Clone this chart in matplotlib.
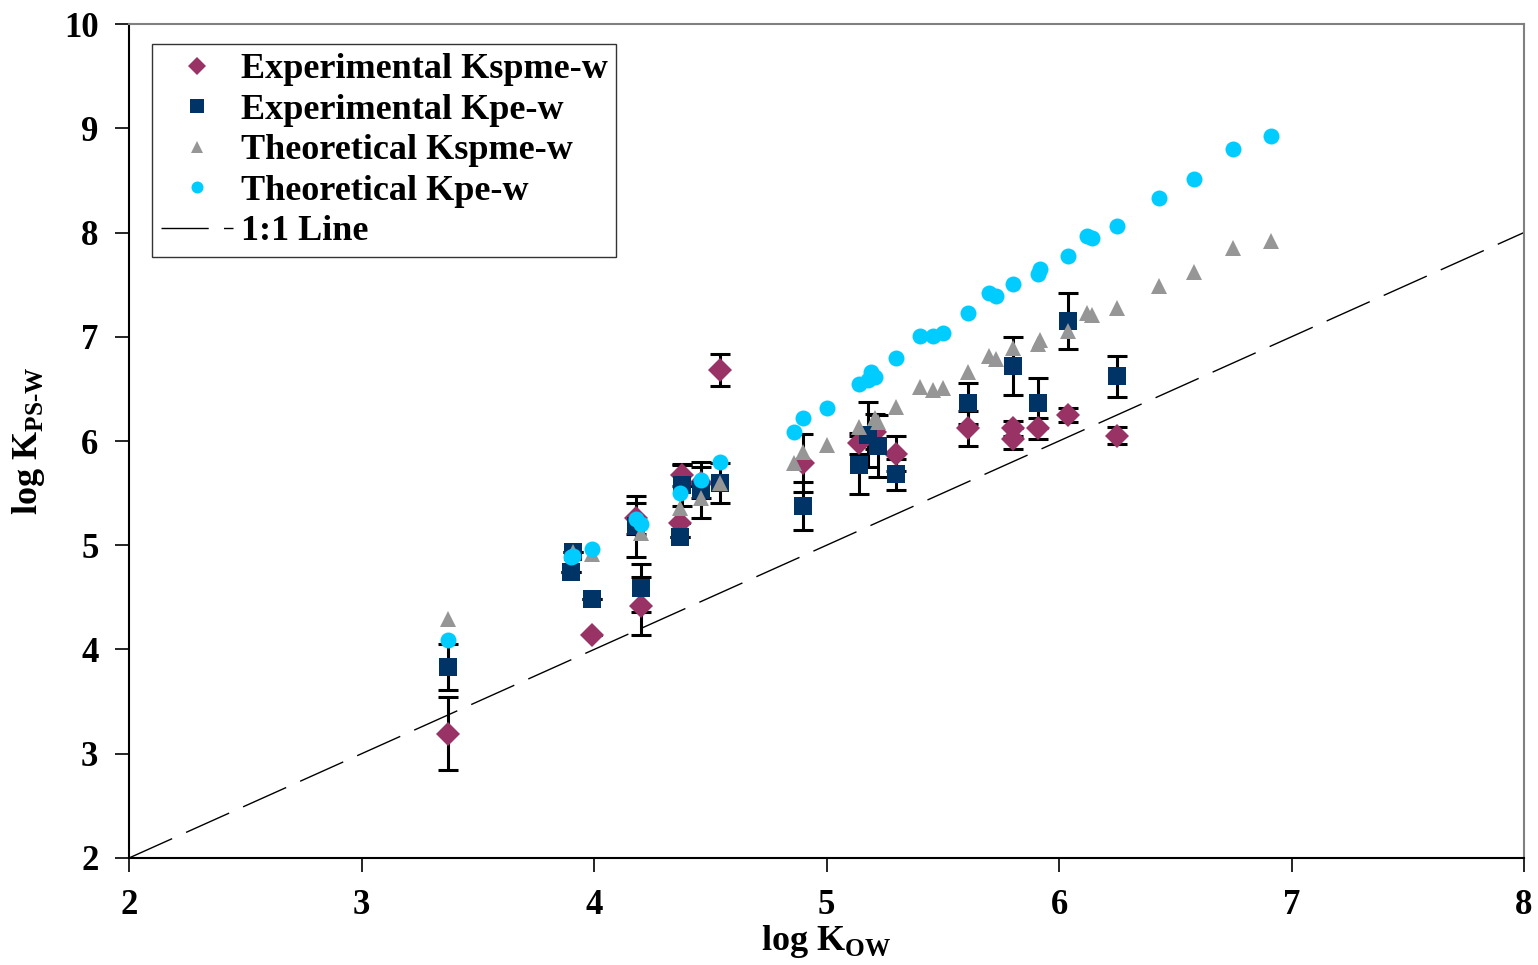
import matplotlib
matplotlib.use("Agg")
import matplotlib.pyplot as plt

plt.rcParams['font.family'] = ['Liberation Serif', 'DejaVu Serif']
plt.rcParams['font.weight'] = 'bold'
plt.rcParams['mathtext.fontset'] = 'custom'
plt.rcParams['mathtext.rm'] = 'Liberation Serif:bold'
plt.rcParams['mathtext.bf'] = 'Liberation Serif:bold'

# Experimental Kspme-w (diamonds)
exp_spme_x = [3.37, 3.99, 4.18, 4.20, 4.37, 4.38, 4.46, 4.54, 4.90, 5.14, 5.21, 5.30,
              5.61, 5.80, 5.80, 5.91, 6.04, 6.25]
exp_spme_y = [3.19, 4.14, 5.26, 4.42, 5.21, 5.67, 5.60, 6.68, 5.79, 5.98, 6.09, 5.88,
              6.12, 6.12, 6.02, 6.12, 6.25, 6.05]
exp_spme_err = [0.35, 0.0, 0.15, 0.28, 0.0, 0.10, 0.15, 0.15, 0.28, 0.10, 0.17, 0.17,
                0.17, 0.07, 0.10, 0.10, 0.07, 0.08]

# Experimental Kpe-w (squares)
exp_pe_x = [3.37, 3.90, 3.91, 3.99, 4.18, 4.20, 4.37, 4.38, 4.46, 4.54, 4.90, 5.14,
            5.18, 5.22, 5.30, 5.61, 5.80, 5.91, 6.04, 6.25]
exp_pe_y = [3.83, 4.74, 4.94, 4.48, 5.18, 4.59, 5.08, 5.58, 5.53, 5.60, 5.38, 5.77,
            6.06, 5.95, 5.68, 6.36, 6.72, 6.36, 7.15, 6.62]
exp_pe_err = [0.22, 0.0, 0.0, 0.0, 0.29, 0.23, 0.0, 0.20, 0.27, 0.19, 0.23, 0.28,
              0.31, 0.30, 0.15, 0.20, 0.28, 0.24, 0.27, 0.20]

# Theoretical Kspme-w (triangles)
th_spme_x = [3.37, 3.91, 3.99, 4.20, 4.37, 4.46, 4.54, 4.86, 4.90, 5.00, 5.14, 5.21,
             5.22, 5.30, 5.40, 5.46, 5.50, 5.61, 5.70, 5.73, 5.80, 5.91, 5.92, 6.04,
             6.12, 6.14, 6.25, 6.43, 6.58, 6.75, 6.91]
th_spme_y = [4.29, 4.94, 4.92, 5.12, 5.36, 5.45, 5.60, 5.79, 5.89, 5.96, 6.13, 6.22,
             6.18, 6.33, 6.52, 6.49, 6.51, 6.66, 6.82, 6.79, 6.89, 6.93, 6.97, 7.06,
             7.23, 7.21, 7.28, 7.49, 7.62, 7.85, 7.92]

# Theoretical Kpe-w (circles)
th_pe_x = [3.37, 3.90, 3.91, 3.99, 4.18, 4.20, 4.37, 4.46, 4.54, 4.86, 4.90, 5.00,
           5.14, 5.18, 5.19, 5.21, 5.30, 5.40, 5.46, 5.50, 5.61, 5.70, 5.73, 5.80,
           5.91, 5.92, 6.04, 6.12, 6.14, 6.25, 6.43, 6.58, 6.75, 6.91]
th_pe_y = [4.09, 4.89, 4.90, 4.96, 5.25, 5.20, 5.50, 5.63, 5.80, 6.09, 6.22, 6.32,
           6.55, 6.59, 6.66, 6.61, 6.80, 7.01, 7.01, 7.04, 7.23, 7.42, 7.39, 7.51,
           7.60, 7.65, 7.77, 7.97, 7.95, 8.06, 8.33, 8.51, 8.80, 8.93]

line_x = [2, 8]

fig = plt.figure(figsize=(15.38, 9.65), dpi=100)
ax = fig.add_axes([0.0839, 0.1109, 0.907, 0.8642])

eb = dict(fmt='none', ecolor='black', elinewidth=2.2, capsize=7, capthick=2.2, zorder=2)
ax.errorbar(exp_spme_x, exp_spme_y, yerr=exp_spme_err, **eb)
ax.errorbar(exp_pe_x, exp_pe_y, yerr=exp_pe_err, **eb)

ax.plot(exp_spme_x, exp_spme_y, 'D', color='#993366', ms=12.5, mew=0, zorder=3,
        label='Experimental Kspme-w')
ax.plot(exp_pe_x, exp_pe_y, 's', color='#003366', ms=13, mew=0, zorder=4,
        label='Experimental Kpe-w')
ax.plot(th_spme_x, th_spme_y, '^', color='#969696', ms=12, mew=0, zorder=5,
        label='Theoretical Kspme-w')
ax.plot(th_pe_x, th_pe_y, 'o', color='#00CCFF', ms=11.5, mew=0, zorder=6,
        label='Theoretical Kpe-w')
ax.plot(line_x, line_x, color='black', lw=1.0, dashes=(34, 11), zorder=1,
        label='1:1 Line')

ax.set_xlim(2, 8)
ax.set_ylim(2, 10)
ax.set_xticks(range(2, 9))
ax.set_yticks(range(2, 11))
ax.tick_params(axis='both', direction='out', length=10, width=1.2, labelsize=25, pad=12)
for lab in ax.get_xticklabels() + ax.get_yticklabels():
    lab.set_fontweight('bold')

for s in ['top', 'right']:
    ax.spines[s].set_color('#808080')
    ax.spines[s].set_linewidth(1.5)
for s in ['left', 'bottom']:
    ax.spines[s].set_color('black')
    ax.spines[s].set_linewidth(1.5)

ax.set_xlabel(r'log K$_{\mathbf{OW}}$', fontsize=26, fontweight='bold', labelpad=1)
ax.set_ylabel(r'log K$_{\mathbf{PS\text{-}W}}$', fontsize=26, fontweight='bold', labelpad=12)

leg = ax.legend(loc='upper left', bbox_to_anchor=(0.0165, 0.976), borderaxespad=0,
                fontsize=26, frameon=True, fancybox=False, edgecolor='black',
                labelspacing=0.2, markerscale=0.75, handlelength=2.0,
                handletextpad=0.2, borderpad=0.25)
leg.get_frame().set_linewidth(1.0)
for t in leg.get_texts():
    t.set_fontweight('bold')

plt.savefig("out.png", dpi=100)
